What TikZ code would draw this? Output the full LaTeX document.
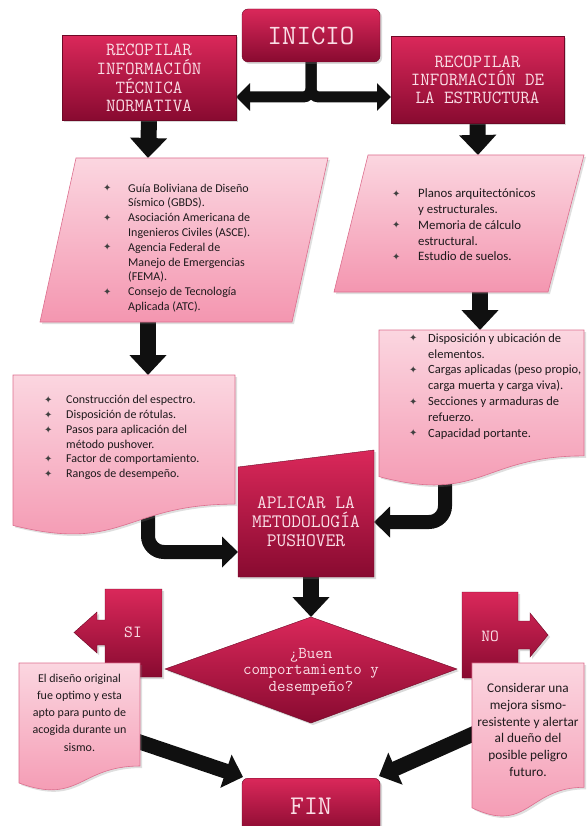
\documentclass[tikz,border=0pt]{standalone}
\usepackage{fontspec}
\setmainfont{Carlito}
\newfontfamily\symf{DejaVu Sans}
\usetikzlibrary{arrows.meta,shadows}
\pgfdeclarelayer{bg}
\pgfsetlayers{bg,main}
\definecolor{crimA}{RGB}{218,40,90}
\definecolor{crimB}{RGB}{136,10,48}
\definecolor{crimE}{RGB}{110,8,38}
\definecolor{pinkA}{RGB}{251,214,224}
\definecolor{pinkB}{RGB}{244,150,176}
\definecolor{pinkE}{RGB}{220,110,142}
\definecolor{crimtext}{RGB}{250,222,230}
\definecolor{bodytext}{RGB}{30,26,28}
\definecolor{arrowc}{RGB}{16,16,16}
\newcommand{\mybul}{\raisebox{0.3pt}{\symf\fontsize{10}{10}\selectfont\color{black!75}✦}}
\newcommand{\myitem}[1]{\mybul & #1\\}
\newcommand{\mycont}[1]{ & #1\\}
\tikzset{
  crim/.style={top color=crimA, bottom color=crimB, draw=crimE, line width=0.4pt,
    drop shadow={opacity=0.3,shadow xshift=2pt,shadow yshift=-2pt}},
  pinkbox/.style={top color=pinkA, bottom color=pinkB, draw=pinkE, line width=0.6pt,
    drop shadow={opacity=0.25,shadow xshift=2pt,shadow yshift=-2pt}},
  ctext/.style={text=crimtext, align=center, inner sep=0pt},
  btext/.style={text=bodytext, inner sep=0pt},
  barrow/.style={draw=arrowc, line width=16pt, -{Triangle[width=36pt,length=20pt]}},
  tarrow/.style={draw=arrowc, line width=11pt, -{Triangle[width=27pt,length=14pt]}},
  carrow/.style={draw=arrowc, line width=14pt, -{Triangle[width=30pt,length=16pt]}},
  darrow/.style={draw=arrowc, line width=15pt, -{Triangle[width=34pt,length=18pt]}},
}
\begin{document}
\begin{tikzpicture}[x=1pt,y=-1pt]
\useasboundingbox (0,0) rectangle (587,826);

% ---------- top boxes ----------
\node[crim, rounded corners=6pt, minimum width=138pt, minimum height=53pt,
      ctext, font=\ttfamily\fontsize{28}{30}\selectfont] (inicio) at (311,35.5) {INICIO};
\node[crim, minimum width=174pt, minimum height=85pt,
      ctext, font=\ttfamily\fontsize{18.5}{18.7}\selectfont] (lbox) at (149,78)
      {RECOPILAR\\INFORMACIÓN\\TÉCNICA\\NORMATIVA};
\node[crim, minimum width=173pt, minimum height=87pt,
      ctext, font=\ttfamily\fontsize{18.5}{18.2}\selectfont] (rbox) at (477.5,80)
      {RECOPILAR\\INFORMACIÓN DE\\LA ESTRUCTURA};

% ---------- parallelograms ----------
\path[pinkbox] (76,158) -- (328,158) -- (292,322) -- (40,322) -- cycle;
\node[btext, anchor=north west, font=\fontsize{12}{14.8}\selectfont] (lparaT) at (103,181.5)
{\begin{tabular}{@{}p{25pt}@{}l@{}}
\myitem{Guía Boliviana de Diseño}
\mycont{Sísmico (GBDS).}
\myitem{Asociación Americana de}
\mycont{Ingenieros Civiles (ASCE).}
\myitem{Agencia Federal de}
\mycont{Manejo de Emergencias}
\mycont{(FEMA).}
\myitem{Consejo de Tecnología}
\mycont{Aplicada (ATC).}
\end{tabular}};

\path[pinkbox] (368,155) -- (584,155) -- (548,292) -- (334,292) -- cycle;
\node[btext, anchor=north west, font=\fontsize{12.8}{15.9}\selectfont] (rparaT) at (392,186)
{\begin{tabular}{@{}p{26pt}@{}l@{}}
\myitem{Planos arquitectónicos}
\mycont{y estructurales.}
\myitem{Memoria de cálculo}
\mycont{estructural.}
\myitem{Estudio de suelos.}
\end{tabular}};

% ---------- document boxes (middle) ----------
\path[pinkbox] (13,375) -- (235,375) -- (235,504.1)
  .. controls (124,504.1) and (124,553.2) .. (13,525.4) -- cycle;
\node[btext, anchor=north west, font=\fontsize{12}{14.7}\selectfont] (ldocT) at (44,393.5)
{\begin{tabular}{@{}p{22pt}@{}l@{}}
\myitem{Construcción del espectro.}
\myitem{Disposición de rótulas.}
\myitem{Pasos para aplicación del}
\mycont{método pushover.}
\myitem{Factor de comportamiento.}
\myitem{Rangos de desempeño.}
\end{tabular}};

\path[pinkbox] (379,330) -- (584,330) -- (584,455.9)
  .. controls (481.5,455.9) and (481.5,503.8) .. (379,476.6) -- cycle;
\node[btext, anchor=north west, font=\fontsize{12.5}{15.8}\selectfont] (rdocT) at (409,331)
{\begin{tabular}{@{}p{19pt}@{}l@{}}
\myitem{Disposición y ubicación de}
\mycont{elementos.}
\myitem{Cargas aplicadas (peso propio,}
\mycont{carga muerta y carga viva).}
\myitem{Secciones y armaduras de}
\mycont{refuerzo.}
\myitem{Capacidad portante.}
\end{tabular}};

% ---------- APLICAR (manual input) ----------
\path[crim] (238,467) -- (374,450) -- (374,577) -- (238,577) -- cycle;
\node[ctext, font=\ttfamily\fontsize{19}{18.7}\selectfont] (apl) at (306,521.5)
  {APLICAR LA\\METODOLOGÍA\\PUSHOVER};

% ---------- SI / NO callouts ----------
\path[crim] (162,589) -- (162,677) -- (105,677) -- (105,645) -- (97,645) -- (97,653)
  -- (74,632.5) -- (97,612) -- (97,620) -- (105,620) -- (105,589) -- cycle;
\node[ctext, font=\ttfamily\fontsize{17}{17}\selectfont] (si) at (133,632) {SI};
\path[crim] (462,592) -- (518,592) -- (518,621) -- (530,621) -- (530,613) -- (548,635)
  -- (530,657) -- (530,649) -- (518,649) -- (518,678) -- (462,678) -- cycle;
\node[ctext, font=\ttfamily\fontsize{17}{17}\selectfont] (no) at (490,636) {NO};

% ---------- decision ----------
\path[crim] (165,669) -- (311,617) -- (457,669) -- (311,723) -- cycle;
\node[ctext, font=\ttfamily\fontsize{16.5}{16.5}\selectfont] (dec) at (311,671.5)
  {¿Buen\\comportamiento y\\desempeño?};

% ---------- result documents ----------
\path[pinkbox] (19,663) -- (140,663) -- (140,766)
  .. controls (79.5,766) and (79.5,805.2) .. (19,783) -- cycle;
\node[btext, align=center, font=\fontsize{12}{17.2}\selectfont] (sidoc) at (79.5,712.5)
  {El diseño original\\fue optimo y esta\\apto para punto de\\acogida durante un\\sismo.};
\path[pinkbox] (472,663) -- (584,663) -- (584,787.3)
  .. controls (528,787.3) and (528,834.6) .. (472,807.8) -- cycle;
\node[btext, align=center, font=\fontsize{13.3}{16.8}\selectfont] (nodoc) at (528,730)
  {Considerar una\\mejora sismo-\\resistente y alertar\\al dueño del\\posible peligro\\futuro.};

% ---------- FIN ----------
\node[crim, rounded corners=6pt, minimum width=138pt, minimum height=56pt, anchor=north,
      ctext, font=\ttfamily\fontsize{27}{29}\selectfont] (fin) at (311,778) {FIN};

% ---------- connector end points ----------
\coordinate (lboxE) at (236,97);
\coordinate (rboxW) at (391,97);
\coordinate (lparaN) at (148,158);
\coordinate (rparaN) at (478,155);
\coordinate (lparaS) at (148,310);
\coordinate (ldocN) at (148,375);
\coordinate (rparaS) at (480,285);
\coordinate (rdocN) at (480,330);
\coordinate (ldocIn) at (148,500);
\coordinate (aplW) at (238,552);
\coordinate (rdocIn) at (445,465);
\coordinate (aplE) at (374,522);
\coordinate (aplS) at (311,570);
\coordinate (decN) at (311,617);
\coordinate (sidocOut) at (128,738);
\coordinate (finW) at (243,777);
\coordinate (nodocOut) at (482,730);
\coordinate (finE) at (379,776);

\begin{pgfonlayer}{bg}
\draw[tarrow, rounded corners=8pt] (inicio.south) |- (lboxE);
\draw[tarrow, rounded corners=8pt] (inicio.south) |- (rboxW);
\draw[barrow] (lbox.south) -- (lparaN);
\draw[barrow] (rbox.south) -- (rparaN);
\draw[barrow] (lparaS) -- (ldocN);
\draw[barrow] (rparaS) -- (rdocN);
\draw[carrow, rounded corners=16pt] (ldocIn) |- (aplW);
\draw[carrow, rounded corners=16pt] (rdocIn) |- (aplE);
\draw[barrow] (aplS) -- (decN);
\draw[darrow] (sidocOut) -- (finW);
\draw[darrow] (nodocOut) -- (finE);
\end{pgfonlayer}
\end{tikzpicture}
\end{document}
